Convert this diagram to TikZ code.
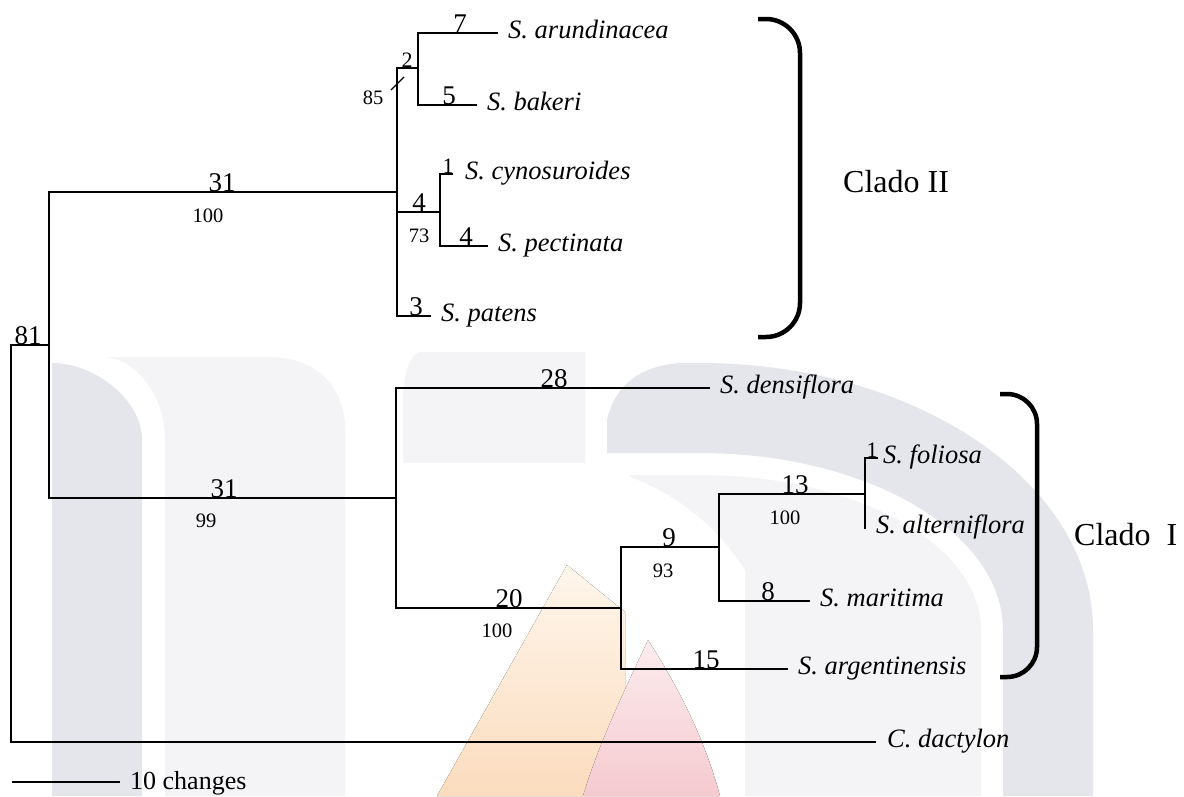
\documentclass[tikz,border=0pt]{standalone}
\usepackage{fontspec}
\setmainfont{Liberation Serif}
\newfontfamily\cladofont{Liberation Serif}
\newcommand\txfont{\fontsize{26.5}{30}\selectfont\itshape}
\newcommand\blfont{\fontsize{27}{30}\selectfont}
\newcommand\smfont{\fontsize{22}{26}\selectfont}
\newcommand\svfont{\fontsize{20.5}{24}\selectfont}
\newcommand\clfont{\fontsize{32}{36}\selectfont\cladofont}
\definecolor{wmdark}{RGB}{229,229,236}
\definecolor{wmlight}{RGB}{244,244,247}
\definecolor{ortop}{RGB}{255,246,236}
\definecolor{orbot}{RGB}{251,220,190}
\definecolor{rdtop}{RGB}{252,236,238}
\definecolor{rdbot}{RGB}{245,202,207}
\begin{document}
\begin{tikzpicture}[x=1pt,y=-1pt,
  br/.style={line width=2pt, line cap=rect, line join=miter},
  taxon/.style={anchor=base west, inner sep=0pt, font=\txfont},
  blen/.style={anchor=base, inner sep=0pt, font=\blfont},
  blsm/.style={anchor=base, inner sep=0pt, font=\smfont},
  supp/.style={anchor=base, inner sep=0pt, font=\svfont},
  clado/.style={anchor=base west, inner sep=0pt, font=\clfont},
  bracket/.style={line width=4.5pt, line cap=butt}]
\useasboundingbox (0,0) rectangle (1184,796);
\fill[white] (0,0) rectangle (1184,796);
% ---------- watermark ----------
\fill[wmlight] (107,357) -- (268,357) .. controls (315,357) and (345,385) .. (345,430)
  -- (345,796) -- (165,796) -- (165,440) .. controls (165,398) and (140,362) .. (107,357) -- cycle;
\fill[wmdark] (52,796) -- (52,363) .. controls (95,363) and (142,400) .. (142,440) -- (142,796) -- cycle;
\fill[wmlight] (420,352) -- (585,352) -- (585,463) -- (403,463) -- (403,395) .. controls (405,370) and (410,355) .. (420,352) -- cycle;
\fill[wmdark] (607,453) -- (607,420) .. controls (615,385) and (640,366) .. (680,363) -- (700,363)
  .. controls (917,363) and (1093,483) .. (1093,630) -- (1093,796) -- (1003,796) -- (1003,630)
  .. controls (1003,532) and (867,453) .. (700,453) -- cycle;
\fill[wmlight] (630,475) -- (700,475) .. controls (855,475) and (981,544) .. (981,630)
  -- (981,796) -- (745,796) -- (745,570) .. controls (720,530) and (680,495) .. (630,477) -- cycle;
\fill[top color=ortop, bottom color=orbot] (567,565) -- (625,612) -- (625,700) -- (583,796) -- (437,796) -- cycle;
\fill[top color=rdtop, bottom color=rdbot] (648,640) .. controls (680,690) and (705,740) .. (720,796) -- (583,796) .. controls (600,740) and (625,690) .. (648,640) -- cycle;
% ---------- internal nodes ----------
\coordinate (R) at (11,345);
\coordinate (A) at (49,345);
\coordinate (B) at (397,192);
\coordinate (C) at (418,68);
\coordinate (D) at (440,212);
\coordinate (E) at (396,498);
\coordinate (F) at (621,608);
\coordinate (G) at (719,547);
\coordinate (H) at (865,494);
% ---------- branch ends ----------
\coordinate (aruE) at (497,33);
\coordinate (bakE) at (476,105);
\coordinate (cynE) at (452,174);
\coordinate (pecE) at (487,246);
\coordinate (patE) at (430,316);
\coordinate (denE) at (709,388);
\coordinate (folE) at (877,458);
\coordinate (altE) at (865,528);
\coordinate (marE) at (809,601);
\coordinate (argE) at (787,669);
\coordinate (cdE)  at (875,742);
% ---------- taxa ----------
\node[taxon] (aru) at (508,38)  {S. arundinacea};
\node[taxon] (bak) at (487,110) {S. bakeri};
\node[taxon] (cyn) at (465,179) {S. cynosuroides};
\node[taxon] (pec) at (498,251) {S. pectinata};
\node[taxon] (pat) at (441,321) {S. patens};
\node[taxon] (den) at (720,393) {S. densiflora};
\node[taxon] (fol) at (883,463) {S. foliosa};
\node[taxon] (alt) at (876,533) {S. alterniflora};
\node[taxon] (mar) at (820,606) {S. maritima};
\node[taxon] (arg) at (798,674) {S. argentinensis};
\node[taxon] (cd)  at (887,747) {C. dactylon};
% ---------- branches ----------
\draw[br] (A) -- (R) |- (cdE);
\draw[br] (B) -| (A) |- (E);
\draw[br] (C) -| (B) |- (patE);
\draw[br] (B |- D) -- (D);
\draw[br] (aruE) -| (C) |- (bakE);
\draw[br] (cynE) -| (D) |- (pecE);
\draw[br] (denE) -| (E) |- (F);
\draw[br] (G) -| (F) |- (argE);
\draw[br] (H) -| (G) |- (marE);
\draw[br] (folE) -| (H) |- (altE);
\draw[line width=1.3pt] (391,90) -- (404,77);
% ---------- branch lengths ----------
\node[blen] (l81) at (28,344) {81};
\node[blen] (l31a) at (222,191) {31};
\node[blen] (l31b) at (224,497) {31};
\node[blsm] (l2) at (407,67) {2};
\node[blen] (l7) at (460,32) {7};
\node[blen] (l5) at (449,104) {5};
\node[blsm] (l1a) at (448,173) {1};
\node[blen] (l4a) at (419,211) {4};
\node[blen] (l4b) at (466,245) {4};
\node[blen] (l3) at (416,315) {3};
\node[blen] (l28) at (554,387) {28};
\node[blen] (l20) at (509,607) {20};
\node[blen] (l9) at (669,546) {9};
\node[blen] (l13) at (795,493) {13};
\node[blsm] (l1b) at (872,457) {1};
\node[blen] (l8) at (768,600) {8};
\node[blen] (l15) at (706,668) {15};
% ---------- support values ----------
\node[supp] (s100a) at (208,222) {100};
\node[supp] (s99) at (206,527) {99};
\node[supp] (s85) at (373,104) {85};
\node[supp] (s73) at (419,242) {73};
\node[supp] (s100b) at (497,637) {100};
\node[supp] (s93) at (663,577) {93};
\node[supp] (s100c) at (785,524) {100};
% ---------- scale bar ----------
\coordinate (sb1) at (12,782);
\coordinate (sb2) at (120,782);
\draw[line width=2pt] (sb1) -- (sb2);
\node[anchor=base west, inner sep=0pt, font=\fontsize{26}{30}\selectfont] (sbl) at (130,789) {10 changes};
% ---------- clade brackets ----------
\draw[bracket, rounded corners=34pt] (758,19) -- (800,19) -- (800,337) -- (758,337);
\node[clado] (c2) at (843,192) {Clado II};
\draw[bracket, rounded corners=30pt] (1000,394) -- (1037,394) -- (1037,677) -- (1000,677);
\node[clado] (c1) at (1074,545) {Clado\ \ I};
\end{tikzpicture}
\end{document}
